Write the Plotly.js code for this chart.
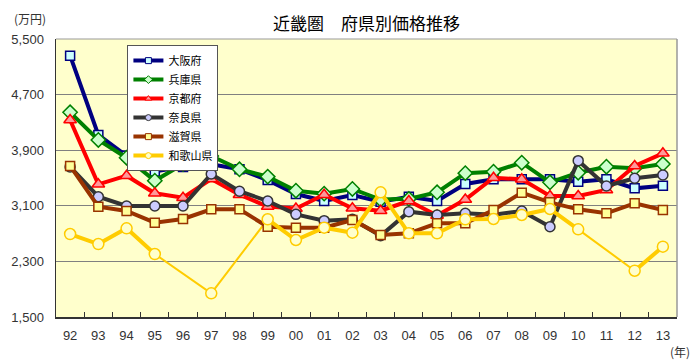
<!DOCTYPE html>
<html>
<head>
<meta charset="utf-8">
<script src="https://cdn.plot.ly/plotly-3.0.1.min.js"></script>
<style>html,body{margin:0;padding:0;background:#fff;}#chart{width:700px;height:362px;}</style>
</head>
<body>
<div id="chart"></div>
<script>
const years = ["92","93","94","95","96","97","98","99","00","01","02","03","04","05","06","07","08","09","10","11","12","13"];
const osaka    = [5260,4120,3820,3595,3660,3697,3625,3470,3270,3170,3255,3160,3230,3170,3414,3481,3481,3481,3447,3481,3351,3390];
const hyogo    = [4445,4047,3792,3461,3701,3816,3625,3520,3317,3275,3342,3190,3200,3294,3570,3591,3720,3438,3576,3663,3639,3701];
const kyoto    = [4334,3409,3533,3280,3217,3486,3260,3090,3060,3260,3064,3030,3169,2960,3190,3504,3481,3241,3241,3327,3673,3855];
const nara     = [3660,3231,3097,3097,3097,3557,3310,3169,2977,2886,2906,2670,3015,2968,2992,2970,3025,2799,3749,3385,3496,3543];
const shiga    = [3673,3087,3025,2857,2910,3049,3049,2799,2785,2785,2896,2680,2704,2848,2848,3040,3289,3150,3049,2992,3136,3040];
const wakayama = [2694,2550,2776,2406,null,1841,null,2906,2608,2785,2713,3294,2704,2704,2906,2910,2968,3054,2761,null,2166,2512];
const names    = ["大阪府","兵庫県","京都府","奈良県","滋賀県","和歌山県"];
const yTicks   = [1500,2300,3100,3900,4700,5500];

const FONT = "'Noto Sans CJK JP', 'Liberation Sans', sans-serif";
const NUMFONT = "'Liberation Sans', Arial, sans-serif";

const styles = [
  {line: "#000080", fill: "#CCFFFF", symbol: "square", size: 9},
  {line: "#008000", fill: "#CCFFCC", symbol: "diamond", size: 11},
  {line: "#FF0000", fill: "#FF9999", symbol: "triangle-up", size: 11},
  {line: "#333333", fill: "#CCCCFF", symbol: "circle", size: 10},
  {line: "#993300", fill: "#FFFF99", symbol: "square", size: 9},
  {line: "#FFCC00", fill: "#FFFFCC", symbol: "circle", size: 11}
];
const series = [osaka, hyogo, kyoto, nara, shiga, wakayama];

const data = [
  {type: "scatter", mode: "lines", x: years, y: wakayama, connectgaps: true,
   line: {color: "#FFCC00", width: 2}, showlegend: false, hoverinfo: "skip"}
];
series.forEach((s, i) => {
  const st = styles[i];
  data.push({
    type: "scatter", mode: "lines+markers", name: names[i], x: years, y: s,
    connectgaps: false, showlegend: false,
    line: {color: st.line, width: 4},
    marker: {symbol: st.symbol, size: st.size, color: st.fill, line: {color: st.line, width: 1.5}}
  });
});
// legend-only entries (no data) with small markers, as in the reference legend
series.forEach((s, i) => {
  const st = styles[i];
  data.push({
    type: "scatter", mode: "lines+markers", name: names[i], x: [null], y: [null],
    showlegend: true, legendrank: i + 1,
    line: {color: st.line, width: 4},
    marker: {symbol: st.symbol, size: 6, color: st.fill, line: {color: st.line, width: 1}}
  });
});

const layout = {
  width: 700, height: 362,
  margin: {l: 56, r: 23, t: 39, b: 45},
  paper_bgcolor: "#FFFFFF",
  plot_bgcolor: "#FFFFCC",
  font: {family: FONT, color: "#333333", size: 13},
  title: {text: "近畿圏　府県別価格推移", x: 0.5, xref: "paper", xanchor: "center",
          y: 1, yref: "container", yanchor: "top", pad: {t: 18},
          font: {family: FONT, size: 17, color: "#000000"}},
  showlegend: true,
  legend: {x: 0.115, y: 0.978, xanchor: "left", yanchor: "top",
           bgcolor: "#FFFFFF", bordercolor: "#555555", borderwidth: 1,
           font: {family: FONT, size: 11, color: "#000000"},
           tracegroupgap: 0, itemwidth: 30},
  xaxis: {type: "category", range: [-0.5, 21.5], tickson: "boundaries",
          ticks: "inside", ticklen: 5, tickcolor: "#333333",
          showline: true, linecolor: "#333333", linewidth: 1.5, mirror: false,
          showgrid: false, ticklabelstandoff: 6,
          tickfont: {family: NUMFONT, size: 13, color: "#333333"}, fixedrange: true},
  yaxis: {range: [1500, 5500], tickvals: yTicks, tickformat: ",d",
          showgrid: true, gridcolor: "#808080", gridwidth: 1,
          showline: true, linecolor: "#333333", linewidth: 1.5,
          ticks: "", zeroline: false, ticklabelstandoff: 8,
          tickfont: {family: NUMFONT, size: 13, color: "#333333"}, fixedrange: true},
  shapes: [
    {type: "line", xref: "paper", yref: "paper", x0: 0, x1: 1, y0: 1, y1: 1, line: {color: "#999999", width: 1}},
    {type: "line", xref: "paper", yref: "paper", x0: 1, x1: 1, y0: 0, y1: 1, line: {color: "#999999", width: 1.5}}
  ],
  annotations: [
    {text: "(万円)", xref: "paper", yref: "paper", x: -0.071, y: 1.075, xanchor: "left", yanchor: "middle",
     showarrow: false, font: {family: FONT, size: 12, color: "#333333"}},
    {text: "(年)", xref: "paper", yref: "paper", x: 1.024, y: -0.124, xanchor: "right", yanchor: "middle",
     showarrow: false, font: {family: FONT, size: 12, color: "#333333"}}
  ]
};

Plotly.newPlot("chart", data, layout, {displayModeBar: false, staticPlot: true});
</script>
</body>
</html>
